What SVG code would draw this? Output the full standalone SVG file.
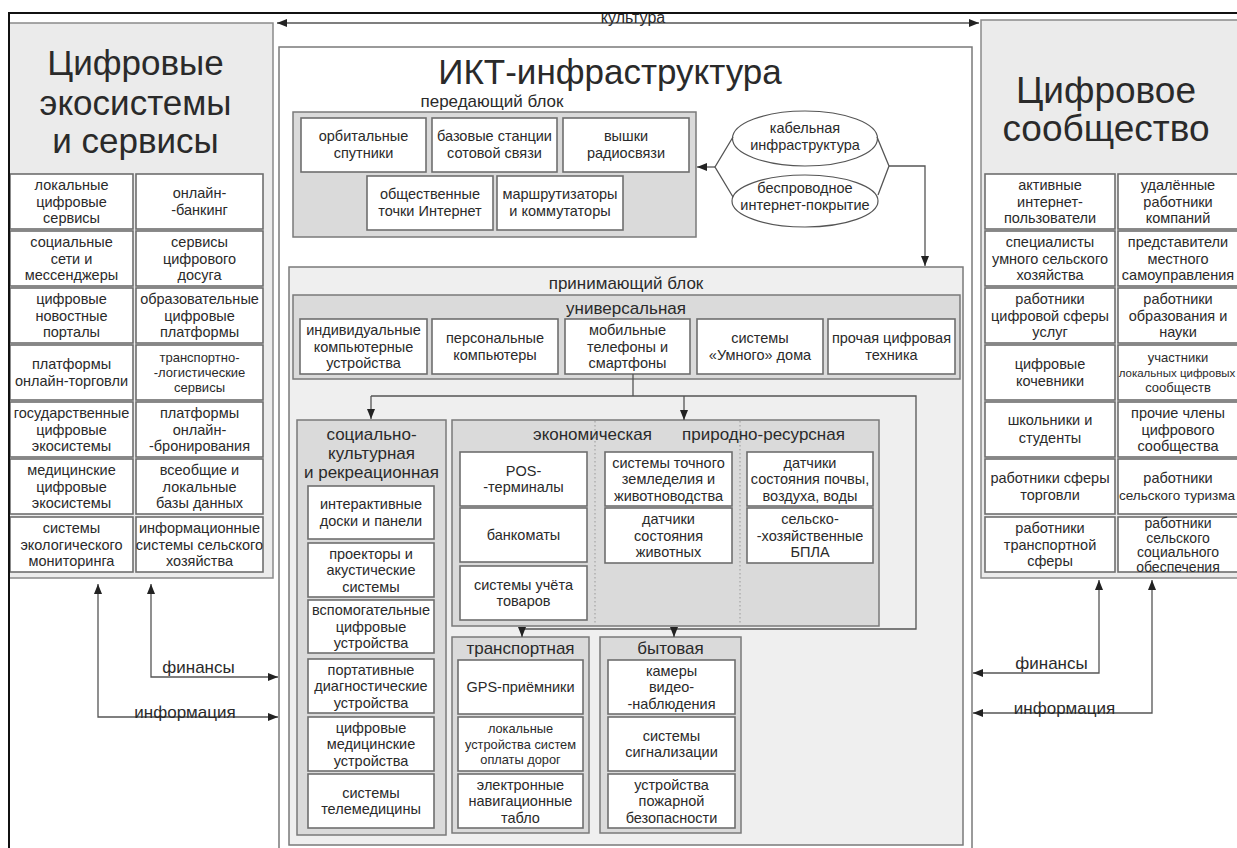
<svg xmlns="http://www.w3.org/2000/svg" width="1237" height="848" viewBox="0 0 1237 848">
<style>
.panel{fill:#ebebeb;stroke:#8a8a8a;stroke-width:1.5}
.cont{fill:#dadada;stroke:#7a7a7a;stroke-width:1.5}
.recv{fill:#efefef;stroke:#7a7a7a;stroke-width:1.5}
.ict{fill:#fff;stroke:#7a7a7a;stroke-width:1.5}
.box{fill:#fff;stroke:#6e6e6e;stroke-width:1.6}
.ell{fill:#fff;stroke:#555;stroke-width:1.2}
.t{font-family:"Liberation Sans",Arial,sans-serif;fill:#2a2a2a;text-anchor:middle;font-size:14.5px}
.s{font-size:13px}
.xs{font-size:12.8px}
.m{font-size:14px}
.h{font-size:17px}
.big{font-size:35px}
.conn{stroke:#555;stroke-width:1.3;fill:none}
.dot{stroke:#999;stroke-width:1;stroke-dasharray:1.5 2.5;fill:none}
</style>
<defs>
<marker id="ah" viewBox="0 0 10 8" refX="10" refY="4" markerWidth="10" markerHeight="8" orient="auto-start-reverse" markerUnits="userSpaceOnUse"><path d="M0,0 L10,4 L0,8 z" fill="#222"/></marker>
</defs>

<g id="left-panel">
<rect class="panel" x="9" y="23" width="264" height="555"/>
<text class="t big"><tspan x="135.5" y="75">Цифровые</tspan><tspan x="135.5" y="115">экосистемы</tspan><tspan x="135.5" y="153">и сервисы</tspan></text>
<rect class="box" x="10" y="174" width="123" height="55"/>
<rect class="box" x="10" y="231" width="123" height="55"/>
<rect class="box" x="10" y="288" width="123" height="55"/>
<rect class="box" x="10" y="345" width="123" height="55"/>
<rect class="box" x="10" y="402" width="123" height="55"/>
<rect class="box" x="10" y="459" width="123" height="55"/>
<rect class="box" x="10" y="517" width="123" height="55"/>
<rect class="box" x="136" y="174" width="127" height="55"/>
<rect class="box" x="136" y="231" width="127" height="55"/>
<rect class="box" x="136" y="288" width="127" height="55"/>
<rect class="box" x="136" y="345" width="127" height="55"/>
<rect class="box" x="136" y="402" width="127" height="55"/>
<rect class="box" x="136" y="459" width="127" height="55"/>
<rect class="box" x="136" y="517" width="127" height="55"/>
<text class="t"><tspan x="71.5" y="190">локальные</tspan><tspan x="71.5" dy="16.5">цифровые</tspan><tspan x="71.5" dy="16.5">сервисы</tspan></text>
<text class="t"><tspan x="71.5" y="247">социальные</tspan><tspan x="71.5" dy="16.5">сети и</tspan><tspan x="71.5" dy="16.5">мессенджеры</tspan></text>
<text class="t"><tspan x="71.5" y="304">цифровые</tspan><tspan x="71.5" dy="16.5">новостные</tspan><tspan x="71.5" dy="16.5">порталы</tspan></text>
<text class="t"><tspan x="71.5" y="369">платформы</tspan><tspan x="71.5" dy="16.5">онлайн-торговли</tspan></text>
<text class="t"><tspan x="71.5" y="418">государственные</tspan><tspan x="71.5" dy="16.5">цифровые</tspan><tspan x="71.5" dy="16.5">экосистемы</tspan></text>
<text class="t"><tspan x="71.5" y="475">медицинские</tspan><tspan x="71.5" dy="16.5">цифровые</tspan><tspan x="71.5" dy="16.5">экосистемы</tspan></text>
<text class="t"><tspan x="71.5" y="533">системы</tspan><tspan x="71.5" dy="16.5">экологического</tspan><tspan x="71.5" dy="16.5">мониторинга</tspan></text>
<text class="t"><tspan x="199.5" y="198">онлайн-</tspan><tspan x="199.5" dy="16.5">-банкинг</tspan></text>
<text class="t"><tspan x="199.5" y="247">сервисы</tspan><tspan x="199.5" dy="16.5">цифрового</tspan><tspan x="199.5" dy="16.5">досуга</tspan></text>
<text class="t"><tspan x="199.5" y="304">образовательные</tspan><tspan x="199.5" dy="16.5">цифровые</tspan><tspan x="199.5" dy="16.5">платформы</tspan></text>
<text class="t s"><tspan x="199.5" y="362">транспортно-</tspan><tspan x="199.5" dy="15">-логистические</tspan><tspan x="199.5" dy="15">сервисы</tspan></text>
<text class="t"><tspan x="199.5" y="418">платформы</tspan><tspan x="199.5" dy="16.5">онлайн-</tspan><tspan x="199.5" dy="16.5">-бронирования</tspan></text>
<text class="t"><tspan x="199.5" y="475">всеобщие и</tspan><tspan x="199.5" dy="16.5">локальные</tspan><tspan x="199.5" dy="16.5">базы данных</tspan></text>
<text class="t"><tspan x="199.5" y="533">информационные</tspan><tspan x="199.5" dy="16.5">системы сельского</tspan><tspan x="199.5" dy="16.5">хозяйства</tspan></text>
</g>

<g id="right-panel">
<rect class="panel" x="981" y="20" width="290" height="558"/>
<text class="t big" style="font-size:37px"><tspan x="1106" y="103">Цифровое</tspan><tspan x="1106" y="141">сообщество</tspan></text>
<rect class="box" x="985" y="174" width="130" height="55"/>
<rect class="box" x="985" y="231" width="130" height="55"/>
<rect class="box" x="985" y="288" width="130" height="55"/>
<rect class="box" x="985" y="345" width="130" height="55"/>
<rect class="box" x="985" y="402" width="130" height="55"/>
<rect class="box" x="985" y="459" width="130" height="55"/>
<rect class="box" x="985" y="517" width="130" height="55"/>
<rect class="box" x="1118" y="174" width="130" height="55"/>
<rect class="box" x="1118" y="231" width="130" height="55"/>
<rect class="box" x="1118" y="288" width="130" height="55"/>
<rect class="box" x="1118" y="345" width="130" height="55"/>
<rect class="box" x="1118" y="402" width="130" height="55"/>
<rect class="box" x="1118" y="459" width="130" height="55"/>
<rect class="box" x="1118" y="517" width="130" height="55"/>
<text class="t"><tspan x="1050" y="190">активные</tspan><tspan x="1050" dy="16.5">интернет-</tspan><tspan x="1050" dy="16.5">пользователи</tspan></text>
<text class="t"><tspan x="1050" y="247">специалисты</tspan><tspan x="1050" dy="16.5">умного сельского</tspan><tspan x="1050" dy="16.5">хозяйства</tspan></text>
<text class="t"><tspan x="1050" y="304">работники</tspan><tspan x="1050" dy="16.5">цифровой сферы</tspan><tspan x="1050" dy="16.5">услуг</tspan></text>
<text class="t"><tspan x="1050" y="369">цифровые</tspan><tspan x="1050" dy="16.5">кочевники</tspan></text>
<text class="t"><tspan x="1050" y="425">школьники и</tspan><tspan x="1050" dy="17.5">студенты</tspan></text>
<text class="t"><tspan x="1050" y="483">работники сферы</tspan><tspan x="1050" dy="16.5">торговли</tspan></text>
<text class="t"><tspan x="1050" y="533">работники</tspan><tspan x="1050" dy="16.5">транспортной</tspan><tspan x="1050" dy="16.5">сферы</tspan></text>
<text class="t"><tspan x="1178" y="190">удалённые</tspan><tspan x="1178" dy="16.5">работники</tspan><tspan x="1178" dy="16.5">компаний</tspan></text>
<text class="t"><tspan x="1178" y="247">представители</tspan><tspan x="1178" dy="16.5">местного</tspan><tspan x="1178" dy="16.5">самоуправления</tspan></text>
<text class="t"><tspan x="1178" y="304">работники</tspan><tspan x="1178" dy="16.5">образования и</tspan><tspan x="1178" dy="16.5">науки</tspan></text>
<text class="t s"><tspan x="1178" y="362">участники</tspan><tspan x="1177" dy="15" style="font-size:11.5px">локальных цифровых</tspan><tspan x="1178" dy="15">сообществ</tspan></text>
<text class="t"><tspan x="1178" y="418">прочие члены</tspan><tspan x="1178" dy="16.5">цифрового</tspan><tspan x="1178" dy="16.5">сообщества</tspan></text>
<text class="t"><tspan x="1178" y="483">работники</tspan><tspan x="1177" dy="16.5" style="font-size:13.5px">сельского туризма</tspan></text>
<text class="t m"><tspan x="1178" y="528">работники</tspan><tspan x="1178" dy="14.5">сельского</tspan><tspan x="1178" dy="14.5">социального</tspan><tspan x="1178" dy="14.5">обеспечения</tspan></text>
</g>

<g id="ict">
<rect class="ict" x="279" y="47" width="693" height="820"/>
<text class="t big" x="610" y="84">ИКТ-инфраструктура</text>
</g>

<g id="transmit-block">
<text class="t h" x="492" y="107">передающий блок</text>
<rect class="cont" x="293" y="112" width="403" height="125"/>
<rect class="box" x="301" y="118" width="125" height="54"/>
<rect class="box" x="432" y="118" width="125" height="54"/>
<rect class="box" x="563" y="118" width="126" height="54"/>
<rect class="box" x="367" y="176" width="126" height="54"/>
<rect class="box" x="497" y="176" width="126" height="54"/>
<text class="t"><tspan x="363.5" y="141">орбитальные</tspan><tspan x="363.5" dy="17">спутники</tspan></text>
<text class="t"><tspan x="494.5" y="141">базовые станции</tspan><tspan x="494.5" dy="17">сотовой связи</tspan></text>
<text class="t"><tspan x="626" y="141">вышки</tspan><tspan x="626" dy="17">радиосвязи</tspan></text>
<text class="t"><tspan x="430" y="199">общественные</tspan><tspan x="430" dy="17">точки Интернет</tspan></text>
<text class="t"><tspan x="560" y="199">маршрутизаторы</tspan><tspan x="560" dy="17">и коммутаторы</tspan></text>
</g>

<g id="cable">
<ellipse class="ell" cx="805" cy="138.5" rx="72.5" ry="27.5"/>
<text class="t"><tspan x="805" y="133">кабельная</tspan><tspan x="805" dy="17">инфраструктура</tspan></text>
</g>
<g id="wireless">
<ellipse class="ell" cx="805" cy="201" rx="73" ry="26"/>
<text class="t"><tspan x="805" y="193">беспроводное</tspan><tspan x="805" dy="16.5">интернет-покрытие</tspan></text>
</g>

<g id="receive-block">
<rect class="recv" x="289" y="267" width="674" height="578"/>
<text class="t h" x="626" y="289">принимающий блок</text>
</g>

<g id="universal">
<rect class="cont" x="293" y="295" width="667" height="84"/>
<text class="t h" x="626" y="314">универсальная</text>
<rect class="box" x="300" y="319" width="127" height="55"/>
<rect class="box" x="432" y="319" width="126" height="55"/>
<rect class="box" x="565" y="319" width="125" height="55"/>
<rect class="box" x="697" y="319" width="126" height="55"/>
<rect class="box" x="828" y="319" width="127" height="55"/>
<text class="t"><tspan x="363.5" y="335">индивидуальные</tspan><tspan x="363.5" dy="16.5">компьютерные</tspan><tspan x="363.5" dy="16.5">устройства</tspan></text>
<text class="t"><tspan x="495" y="343">персональные</tspan><tspan x="495" dy="16.5">компьютеры</tspan></text>
<text class="t"><tspan x="627.5" y="335">мобильные</tspan><tspan x="627.5" dy="16.5">телефоны и</tspan><tspan x="627.5" dy="16.5">смартфоны</tspan></text>
<text class="t"><tspan x="760" y="343">системы</tspan><tspan x="760" dy="16.5">«Умного» дома</tspan></text>
<text class="t"><tspan x="891.5" y="343">прочая цифровая</tspan><tspan x="891.5" dy="16.5">техника</tspan></text>
</g>

<g id="social">
<rect class="cont" x="297" y="420" width="149" height="415"/>
<text class="t h"><tspan x="371.5" y="440">социально-</tspan><tspan x="371.5" dy="19">культурная</tspan><tspan x="371.5" dy="19">и рекреационная</tspan></text>
<rect class="box" x="308" y="486" width="126" height="53"/>
<rect class="box" x="308" y="543" width="126" height="54"/>
<rect class="box" x="308" y="600" width="126" height="53"/>
<rect class="box" x="308" y="659" width="126" height="54"/>
<rect class="box" x="308" y="717" width="126" height="54"/>
<rect class="box" x="308" y="774" width="126" height="54"/>
<text class="t"><tspan x="371" y="509">интерактивные</tspan><tspan x="371" dy="16.5">доски и панели</tspan></text>
<text class="t"><tspan x="371" y="558.5">проекторы и</tspan><tspan x="371" dy="16.5">акустические</tspan><tspan x="371" dy="16.5">системы</tspan></text>
<text class="t"><tspan x="371" y="615">вспомогательные</tspan><tspan x="371" dy="16.5">цифровые</tspan><tspan x="371" dy="16.5">устройства</tspan></text>
<text class="t"><tspan x="371" y="674.5">портативные</tspan><tspan x="371" dy="16.5">диагностические</tspan><tspan x="371" dy="16.5">устройства</tspan></text>
<text class="t"><tspan x="371" y="732.5">цифровые</tspan><tspan x="371" dy="16.5">медицинские</tspan><tspan x="371" dy="16.5">устройства</tspan></text>
<text class="t"><tspan x="371" y="797.5">системы</tspan><tspan x="371" dy="16.5">телемедицины</tspan></text>
</g>

<g id="economic">
<rect class="cont" x="452" y="420" width="427" height="206"/>
<path class="dot" d="M595,421 V625 M740,421 V625"/>
<text class="t h" x="592.5" y="440">экономическая</text>
<text class="t h" x="763.5" y="440">природно-ресурсная</text>
<rect class="box" x="460" y="452" width="127" height="54"/>
<rect class="box" x="460" y="508" width="127" height="54"/>
<rect class="box" x="460" y="566" width="127" height="54"/>
<rect class="box" x="605" y="452" width="127" height="54"/>
<rect class="box" x="605" y="508" width="127" height="55"/>
<rect class="box" x="747" y="452" width="126" height="54"/>
<rect class="box" x="747" y="508" width="126" height="55"/>
<text class="t"><tspan x="523.5" y="475.5">POS-</tspan><tspan x="523.5" dy="16.5">-терминалы</tspan></text>
<text class="t" x="523.5" y="540">банкоматы</text>
<text class="t"><tspan x="523.5" y="589.5">системы учёта</tspan><tspan x="523.5" dy="16.5">товаров</tspan></text>
<text class="t"><tspan x="668.5" y="467.5">системы точного</tspan><tspan x="668.5" dy="16.5">земледелия и</tspan><tspan x="668.5" dy="16.5">животноводства</tspan></text>
<text class="t"><tspan x="668.5" y="524">датчики</tspan><tspan x="668.5" dy="16.5">состояния</tspan><tspan x="668.5" dy="16.5">животных</tspan></text>
<text class="t"><tspan x="810" y="467.5">датчики</tspan><tspan x="810" dy="16.5">состояния почвы,</tspan><tspan x="810" dy="16.5">воздуха, воды</tspan></text>
<text class="t"><tspan x="810" y="524">сельско-</tspan><tspan x="810" dy="16.5">-хозяйственные</tspan><tspan x="810" dy="16.5">БПЛА</tspan></text>
</g>

<g id="transport">
<rect class="cont" x="452" y="637" width="137" height="196"/>
<text class="t h" x="520.5" y="654">транспортная</text>
<rect class="box" x="458" y="660" width="125" height="54"/>
<rect class="box" x="458" y="717" width="125" height="54"/>
<rect class="box" x="458" y="774" width="125" height="54"/>
<text class="t" x="520.5" y="692">GPS-приёмники</text>
<text class="t xs"><tspan x="520.5" y="733">локальные</tspan><tspan x="520.5" dy="15.5">устройства систем</tspan><tspan x="520.5" dy="15.5">оплаты дорог</tspan></text>
<text class="t"><tspan x="520.5" y="789.5">электронные</tspan><tspan x="520.5" dy="16.5">навигационные</tspan><tspan x="520.5" dy="16.5">табло</tspan></text>
</g>

<g id="household">
<rect class="cont" x="600" y="637" width="141" height="196"/>
<text class="t h" x="670.5" y="654">бытовая</text>
<rect class="box" x="608" y="660" width="127" height="54"/>
<rect class="box" x="608" y="717" width="127" height="54"/>
<rect class="box" x="608" y="774" width="127" height="54"/>
<text class="t"><tspan x="671.5" y="675.5">камеры</tspan><tspan x="671.5" dy="16.5">видео-</tspan><tspan x="671.5" dy="16.5">-наблюдения</tspan></text>
<text class="t"><tspan x="671.5" y="740.5">системы</tspan><tspan x="671.5" dy="16.5">сигнализации</tspan></text>
<text class="t"><tspan x="671.5" y="789.5">устройства</tspan><tspan x="671.5" dy="16.5">пожарной</tspan><tspan x="671.5" dy="16.5">безопасности</tspan></text>
</g>

<g id="connectors">
<path d="M9,850 V13 H1240" fill="none" stroke="#111" stroke-width="2"/>
<path class="conn" d="M277,23 H979" marker-start="url(#ah)" marker-end="url(#ah)"/>
<text class="t" style="font-size:16px" x="633" y="23">культура</text>
<path class="conn" d="M733,137 L715,167 L733,197 M877,137 L889,166 L878,195"/>
<path class="conn" d="M715,167 H697" marker-end="url(#ah)"/>
<path class="conn" d="M889,166 H925 V266" marker-end="url(#ah)"/>
<path class="conn" d="M633,374 V396 M371,396 H916 V629 H522"/>
<path class="conn" d="M371,396 V419" marker-end="url(#ah)"/>
<path class="conn" d="M684,396 V420" marker-end="url(#ah)"/>
<path class="conn" d="M522,629 V637" marker-end="url(#ah)"/>
<path class="conn" d="M674,629 V637" marker-end="url(#ah)"/>
<path class="conn" d="M151,584 V677 H278" marker-start="url(#ah)" marker-end="url(#ah)"/>
<path class="conn" d="M98,584 V717 H278" marker-start="url(#ah)" marker-end="url(#ah)"/>
<text class="t h" x="198.5" y="673">финансы</text>
<text class="t h" x="185" y="718">информация</text>
<path class="conn" d="M1099,580 V673 H973" marker-start="url(#ah)" marker-end="url(#ah)"/>
<path class="conn" d="M1152,580 V713 H973" marker-start="url(#ah)" marker-end="url(#ah)"/>
<text class="t h" x="1051.5" y="669">финансы</text>
<text class="t h" x="1064.5" y="714">информация</text>
</g>
</svg>
